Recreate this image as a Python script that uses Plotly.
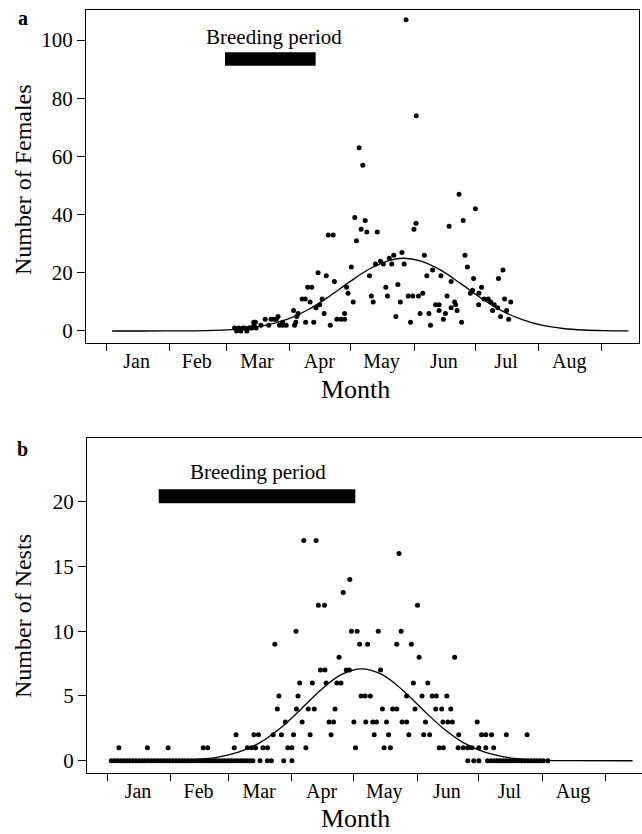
import plotly.graph_objects as go

W, H = 642, 834

months = ["Jan", "Feb", "Mar", "Apr", "May", "Jun", "Jul", "Aug"]
month_mid = [16, 45.5, 75, 105.5, 136, 166.5, 197, 228]
month_start = [1, 32, 60, 91, 121, 152, 182, 213, 244]

# Panel a: number of females (day of year, count)
fem_day = [125, 126.8, 148, 153, 174, 182, 122.9, 128, 126, 128.8,
           133.9, 123.7, 152.9, 151.9, 169.1, 176, 109.9, 112.3, 121.2, 104.9,
           108.9, 112.9, 130.1, 133, 135.5, 136.9, 139.8, 142, 141, 146,
           147.1, 157, 161, 158.2, 165.1, 170.1, 176.9, 178.1, 181.1, 195.5,
           193.3, 185, 183.7, 179.5, 180.6, 186.2, 188.3, 189.5, 191.2, 183.6,
           192.9, 196.3, 199.3, 197.3, 190.4, 194.3, 198.3, 171.8, 172.3, 168.1,
           170.1, 173, 175.2, 164.2, 162.5, 164.2, 159.2, 167.3, 166.3, 160,
           154.9, 156.2, 154.1, 151.3, 149.1, 150.2, 145.2, 144, 143, 138.9,
           138.1, 131.9, 131, 122.1, 119.6, 118.9, 117.9, 116.2, 114.1, 117.9,
           110.9, 107.9, 106.9, 105.7, 103.9, 101, 98.6, 97.1, 99.8, 101.8,
           102.8, 98.8, 92.9, 95.1, 94.5, 94, 93.4, 89.3, 87.6, 86,
           87.5, 85.3, 84.5, 83.3, 81.9, 80.7, 79, 76.9, 74.2, 73.5,
           73.4, 71.1, 64, 65, 66, 67, 68, 69, 70, 71.5,
           72.5, 74.5]
fem_count = [63, 57, 107, 74, 47, 42, 39, 38, 35, 34,
             34, 31, 37, 35, 36, 38, 33, 33, 22, 20,
             19, 17, 19, 23, 24, 23, 25, 26, 23, 27,
             23, 26, 21, 19, 19, 17, 26, 22, 18, 21,
             18, 15, 13, 13, 14, 11, 11, 10, 9, 9,
             8, 11, 10, 7, 7, 5, 4, 10, 9, 12,
             8, 7, 3, 9, 9, 7, 6, 6, 4, 2,
             6, 13, 12, 12, 12, 3, 10, 16, 5, 12,
             15, 10, 12, 10, 13, 15, 6, 4, 4, 4,
             2, 6, 11, 9, 8, 10, 11, 11, 15, 15,
             3, 3, 7, 6, 5, 3, 2, 2, 2, 2,
             3, 5, 4, 4, 4, 2, 4, 2, 3, 2,
             3, 1, 1, 0, 1, 0, 1, 1, 0, 1,
             1, 1]

fit_a_day = [4, 20, 35, 50, 60, 70, 80, 90, 100, 110, 120, 130, 140, 147,
             155, 165, 175, 185, 195, 205, 215, 225, 235, 245, 257]
fit_a_val = [0, 0, 0.02, 0.13, 0.37, 0.93, 2.07, 4.1, 7.3, 11.7, 16.7, 21.3, 24.3, 25,
             24.1, 20.9, 16.2, 11.2, 6.9, 3.9, 1.9, 0.85, 0.34, 0.12, 0.03]

breed_a = [59.3, 103.7]

# Panel b: number of nests, days grouped by count
nests_0 = [3, 4.5, 6, 7.5, 9, 10.5, 12, 13.5, 15, 16.5, 18, 19.5, 21, 22.5, 24, 25.5,
           27, 28.5, 30, 31.5, 33, 34.5, 36, 37.5, 39, 40.5, 42, 43.5, 45, 46.5, 48,
           49.5, 51, 52.5, 54, 55.5, 57, 58.5, 60, 61.5, 63, 64.5, 66, 67.5, 69, 70.5,
           72, 75.5, 79, 81, 87, 91,
           176.7, 179.6, 182.1, 186.3, 188, 189.5, 191, 192.5, 194, 195.5, 197, 198.5,
           200, 201.5, 203, 204.5, 206, 207.5, 209, 210.5, 212, 213.5, 215.7]
nests_1 = [6.7, 20.6, 30.7, 47.8, 50, 62.9, 69.3, 71.3, 73.3, 76.9, 79.1, 89, 91, 97.8,
           122, 135.9, 139, 162.8, 164.8, 172, 174.5, 176.7, 178.7, 182.1, 185.5, 189.3]
nests_2 = [63.8, 72.5, 74.7, 81.9, 85.9, 91.8, 99.9, 110.1, 131.1, 138.1, 148, 155.2,
           158.1, 172.3, 183.4, 185.5, 188.3, 195.5, 205.6]
nests_3 = [87.8, 96, 109.1, 111.3, 121.2, 127, 130.4, 132.2, 137.1, 144.7, 146.9, 156.1,
           164.6, 167, 169.2, 181.3]
nests_4 = [83.9, 93.2, 99, 101.9, 112, 135.1, 140.1, 142.1, 151, 161.1, 164, 168.4]
nests_5 = [84.7, 94, 124.7, 126.7, 129.2, 146.9, 154.4, 159.4, 161.4, 166.5]
nests_6 = [94.8, 101, 107.7, 112.9, 114.9, 150.2, 157.2]
nests_7 = [104.9, 107.1, 117.5, 119, 134.2]
nests_8 = [114, 153, 170.3]
nests_9 = [82.7, 124, 127.9, 142.1, 149.2]
nests_10 = [93, 120, 122.8, 133.1, 144.2]
nests_12 = [103.9, 106.9, 152.2]
nests_13 = [116]
nests_14 = [119.2]
nests_16 = [143.2]
nests_17 = [96.8, 102.8]

fit_b_day = [4, 20, 35, 45, 55, 65, 75, 85, 95, 105, 115, 125, 135, 145, 155, 165,
             175, 185, 195, 205, 215, 225, 257]
fit_b_val = [0, 0.01, 0.03, 0.1, 0.28, 0.66, 1.36, 2.47, 3.92, 5.45, 6.65, 7.1, 6.65,
             5.45, 3.92, 2.47, 1.36, 0.66, 0.28, 0.1, 0.03, 0.01, 0]

breed_b = [26.1, 121.9]

nest_rows = [(0, nests_0), (1, nests_1), (2, nests_2), (3, nests_3), (4, nests_4),
             (5, nests_5), (6, nests_6), (7, nests_7), (8, nests_8), (9, nests_9),
             (10, nests_10), (12, nests_12), (13, nests_13), (14, nests_14),
             (16, nests_16), (17, nests_17)]
nest_day = [d for c, days in nest_rows for d in days]
nest_count = [c for c, days in nest_rows for d in days]

FONT = "Liberation Serif, DejaVu Serif, serif"

fig = go.Figure()
fig.add_trace(go.Scatter(x=fit_a_day, y=fit_a_val, mode="lines", line_shape="spline",
                         line=dict(color="black", width=1.3), xaxis="x", yaxis="y"))
fig.add_trace(go.Scatter(x=fem_day, y=fem_count, mode="markers",
                         marker=dict(color="black", size=5), xaxis="x", yaxis="y"))
fig.add_trace(go.Scatter(x=fit_b_day, y=fit_b_val, mode="lines", line_shape="spline",
                         line=dict(color="black", width=1.3), xaxis="x2", yaxis="y2"))
fig.add_trace(go.Scatter(x=nest_day, y=nest_count, mode="markers",
                         marker=dict(color="black", size=5), xaxis="x2", yaxis="y2"))


def px_x(p):
    return p / W


def px_y(p):
    return 1 - p / H


common_x = dict(
    tickmode="array", tickvals=month_mid, ticktext=months,
    ticks="outside", ticklen=0, tickcolor="rgba(0,0,0,0)",
    minor=dict(tickmode="array", tickvals=month_start, ticks="outside",
               ticklen=7, tickwidth=1.2, tickcolor="black"),
    showline=True, mirror=True, linecolor="black", linewidth=1.2,
    showgrid=False, zeroline=False,
    tickfont=dict(family=FONT, size=20, color="black"),
)
common_y = dict(
    ticks="outside", ticklen=8, tickwidth=1.2, tickcolor="black",
    showline=True, mirror=True, linecolor="black", linewidth=1.2,
    showgrid=False, zeroline=False,
    tickfont=dict(family=FONT, size=21, color="black"),
)

fig.update_layout(
    width=W, height=H,
    margin=dict(l=0, r=0, t=0, b=0),
    paper_bgcolor="white", plot_bgcolor="white",
    showlegend=False,
    xaxis=dict(domain=[px_x(86), px_x(639)], range=[-8.80, 262.15], anchor="y", **common_x),
    yaxis=dict(domain=[px_y(343.3), px_y(10)], range=[-4.23, 110.32], anchor="x",
               tickmode="array", tickvals=[0, 20, 40, 60, 80, 100], **common_y),
    xaxis2=dict(domain=[px_x(87), 1.0], range=[-8.84, 261.6], anchor="y2", **common_x),
    yaxis2=dict(domain=[px_y(773.3), px_y(438.3)], range=[-0.97, 24.9], anchor="x2",
                tickmode="array", tickvals=[0, 5, 10, 15, 20], **common_y),
    shapes=[
        dict(type="rect", xref="x", yref="y", x0=breed_a[0], x1=breed_a[1],
             y0=91.16, y1=95.77, fillcolor="black", line=dict(width=0)),
        dict(type="rect", xref="x2", yref="y2", x0=breed_b[0], x1=breed_b[1],
             y0=19.88, y1=20.96, fillcolor="black", line=dict(width=0)),
    ],
)

ann_font = dict(family=FONT, color="black")
C = dict(xanchor="center", yanchor="middle", showarrow=False)
annotations = [
    dict(text="Breeding period", xref="x", yref="y", x=83.3, y=100.9,
         font=dict(size=21, **ann_font), **C),
    dict(text="Breeding period", xref="x2", yref="y2", x=74.5, y=22.28,
         font=dict(size=21, **ann_font), **C),
    dict(text="<b>a</b>", xref="paper", yref="paper", x=px_x(23), y=px_y(18),
         font=dict(size=20, **ann_font), **C),
    dict(text="<b>b</b>", xref="paper", yref="paper", x=px_x(23), y=px_y(449),
         font=dict(size=20, **ann_font), **C),
    dict(text="Number of Females", xref="paper", yref="paper", x=px_x(23), y=px_y(180),
         textangle=-90, font=dict(size=24, **ann_font), **C),
    dict(text="Number of Nests", xref="paper", yref="paper", x=px_x(23), y=px_y(616),
         textangle=-90, font=dict(size=24, **ann_font), **C),
    dict(text="Month", xref="paper", yref="paper", x=px_x(356), y=px_y(389),
         font=dict(size=26, **ann_font), **C),
    dict(text="Month", xref="paper", yref="paper", x=px_x(356), y=px_y(818),
         font=dict(size=26, **ann_font), **C),
]
fig.update_layout(annotations=annotations)

fig.write_html("out.html", config={"displayModeBar": False},
               post_script="document.body.style.margin='0px';document.body.style.overflow='hidden';")
